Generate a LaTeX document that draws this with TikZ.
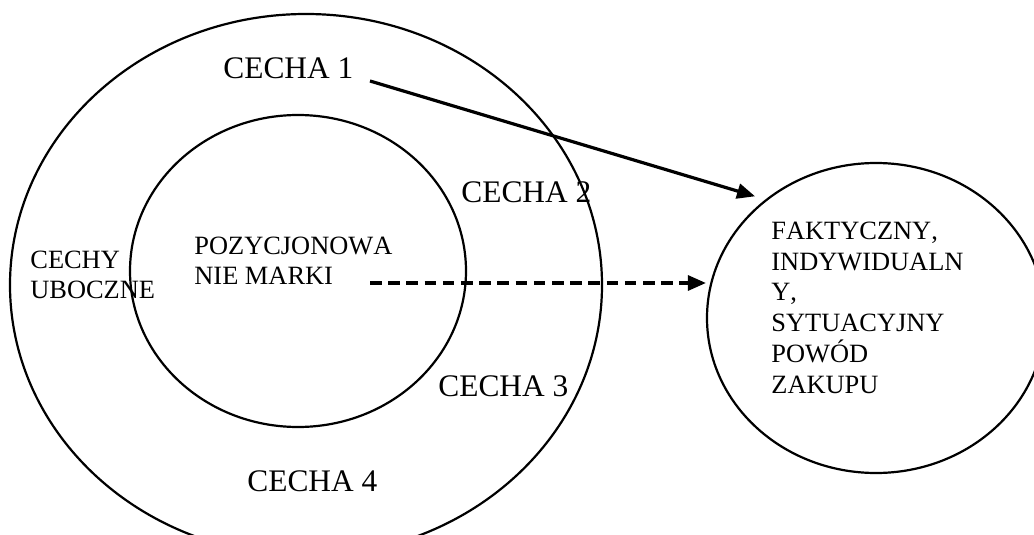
\documentclass[tikz,border=0pt]{standalone}
\usepackage{fontspec}
\setmainfont{Liberation Serif}[Kerning=Off]
\usetikzlibrary{shapes.geometric,arrows.meta}
\begin{document}
\begin{tikzpicture}[x=0.5pt,y=-0.5pt,
  ring/.style={line width=1.1pt},
  big/.style={font=\fontsize{15.7}{18}\selectfont, inner sep=0pt, anchor=base west},
  small/.style={font=\fontsize{13.2}{15.2}\selectfont, inner sep=0pt, anchor=base west},
  link/.style={line width=1.6pt, -{Triangle[length=9pt,width=7.5pt]}},
]
\useasboundingbox (0,0) rectangle (1034,535);
\clip (0,0) rectangle (1034,535);
% rings
\draw[ring] (306,285) ellipse [x radius=296, y radius=271];
\draw[ring] (298,271) ellipse [x radius=168, y radius=156];
\node[ring, draw, ellipse, minimum width=169pt, minimum height=155pt, inner sep=0pt] (goal) at (876,318) {};
% texts
\node[big] (c1) at (223,78.5) {CECHA 1};
\node[big] (c2) at (461,203) {CECHA 2};
\node[big] (c3) at (438,396) {CECHA 3};
\node[big] (c4) at (247,491) {CECHA 4};
\node[small] (poz) at (194,254) {\begin{tabular}[t]{@{}l@{}}POZYCJONOWA\\NIE MARKI\end{tabular}};
\node[small] (ub) at (30,268) {\begin{tabular}[t]{@{}l@{}}CECHY\\UBOCZNE\end{tabular}};
\node[small] (goaltext) at (771,240) {\begin{tabular}[t]{@{}l@{}}FAKTYCZNY,\\INDYWIDUALN\\Y,\\SYTUACYJNY\\POWÓD\\ZAKUPU\end{tabular}};
% connectors
\coordinate (a1s) at (370,81);
\coordinate (a2s) at (370,283);
\draw[link, shorten >=5.4pt] (a1s) -- (goal.133.4);
\draw[link, dash pattern=on 5.8pt off 3.3pt] (a2s) -- (a2s -| goal.west);
\end{tikzpicture}
\end{document}
